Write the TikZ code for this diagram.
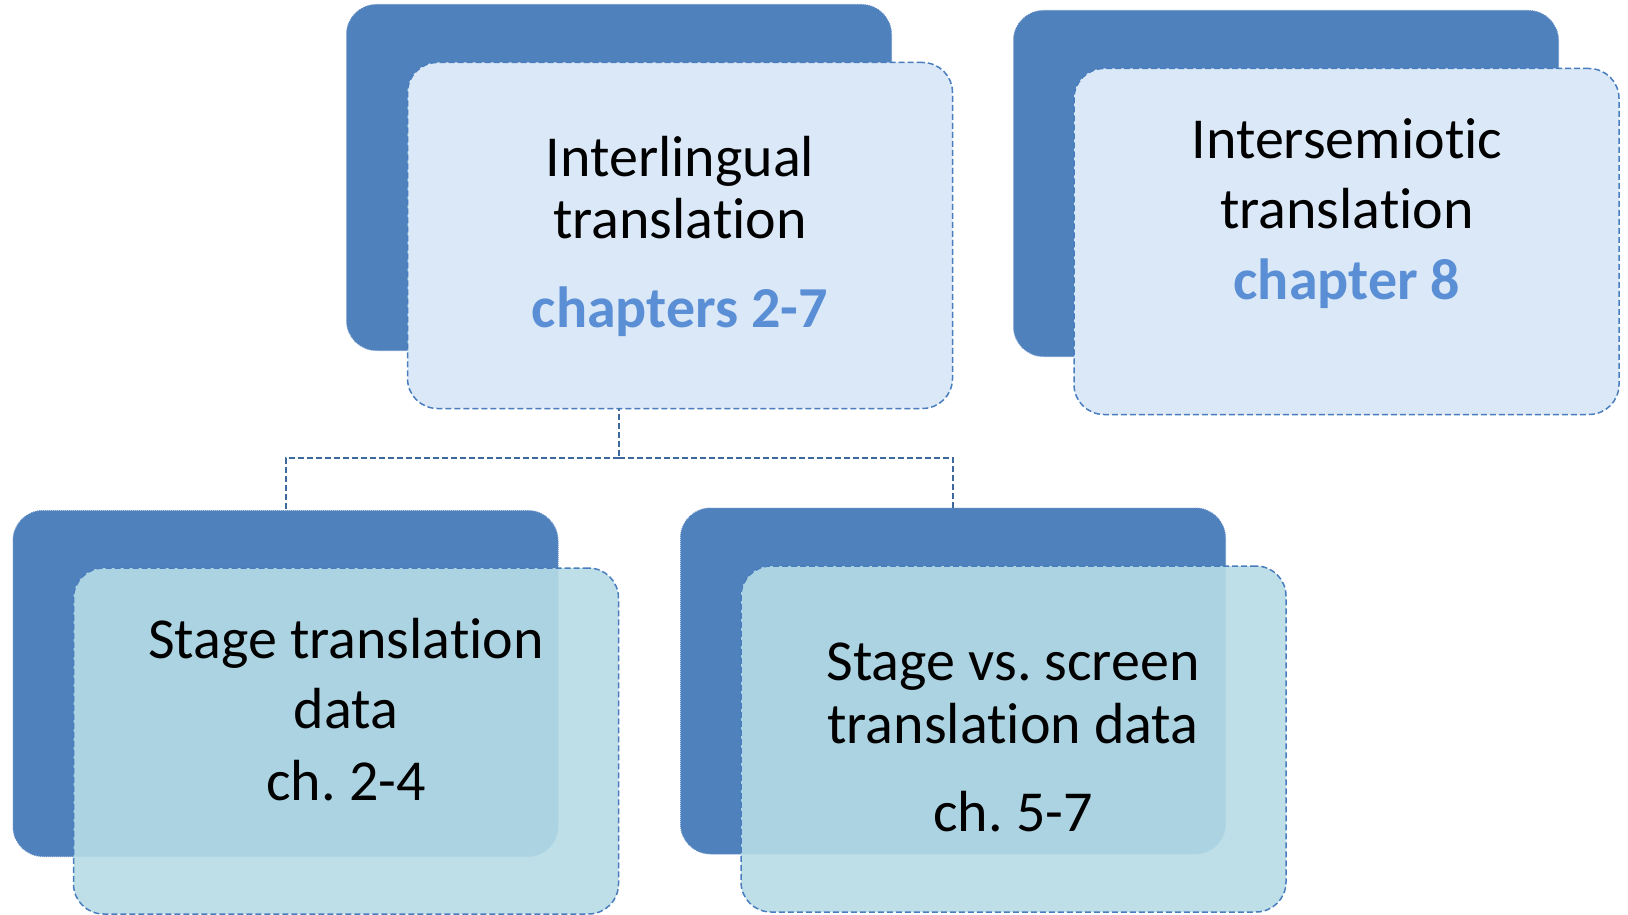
\documentclass[tikz,border=0pt]{standalone}
\usepackage{fontspec}
\setmainfont[Ligatures=NoCommon]{Carlito}
\frenchspacing
\definecolor{backblue}{HTML}{4F81BD}
\definecolor{backedge}{HTML}{6A93C8}
\definecolor{frontedge}{HTML}{4A7DBD}
\definecolor{connblue}{HTML}{3D699C}
\definecolor{paleblue}{HTML}{DAE8F7}
\definecolor{aqua}{HTML}{B7DCE6}
\definecolor{chapblue}{HTML}{5A8ED5}
\tikzset{
  card/.style={rectangle, rounded corners=30pt, minimum width=545pt,
    minimum height=346pt, inner sep=0pt, outer sep=0pt},
  backcard/.style={card, fill=backblue, draw=backedge, densely dotted, line width=1pt},
  topcard/.style={card, fill=paleblue, draw=frontedge, line width=1.5pt,
    dash pattern=on 6pt off 3pt},
  lowcard/.style={card, fill=aqua, fill opacity=0.9, draw=frontedge, line width=1.5pt,
    dash pattern=on 6pt off 3pt},
  conn/.style={draw=connblue, line width=2pt, dash pattern=on 6pt off 3pt},
  txt/.style={anchor=base, inner sep=0pt, font=\fontsize{58}{70}\selectfont, text=black},
  chap/.style={txt, font=\fontsize{58}{70}\selectfont\bfseries, text=chapblue},
}
\begin{document}
\begin{tikzpicture}[x=1pt, y=-1pt]
\useasboundingbox (0,0) rectangle (1628,915);

% back cards
\node[backcard] (tcb) at (619,177.5) {};
\node[backcard] (trb) at (1286,183.5) {};
\node[backcard] (blb) at (285.5,683.5) {};
\node[backcard] (bmb) at (953,681) {};

% tree connectors (drawn beneath the front cards)
\coordinate (fork) at (619,458);
\draw[conn] (tcb.south) -- (fork) -| (blb.north);
\draw[conn] (fork) -| (bmb.north);

% front cards
\node[topcard] (tcf) at (680,235.5) {};
\node[topcard] (trf) at (1346.5,241.5) {};
\node[lowcard] (blf) at (346,741) {};
\node[lowcard] (bmf) at (1013.5,739) {};

% labels
\node[txt]  (tc1) at (680,176) {Interlingual};
\node[txt]  (tc2) at (680,238) {translation};
\node[chap] (tc3) at (680,327) {chapters 2-7};

\node[txt]  (tr1) at (1347,158) {Intersemiotic};
\node[txt]  (tr2) at (1347,228) {translation};
\node[chap] (tr3) at (1347,299) {chapter 8};

\node[txt] (bl1) at (346,658) {Stage translation};
\node[txt] (bl2) at (346,728) {data};
\node[txt] (bl3) at (346,800) {ch. 2-4};

\node[txt] (bm1) at (1013,680) {Stage vs. screen};
\node[txt] (bm2) at (1013,743) {translation data};
\node[txt] (bm3) at (1013,831) {ch. 5-7};
\end{tikzpicture}
\end{document}
